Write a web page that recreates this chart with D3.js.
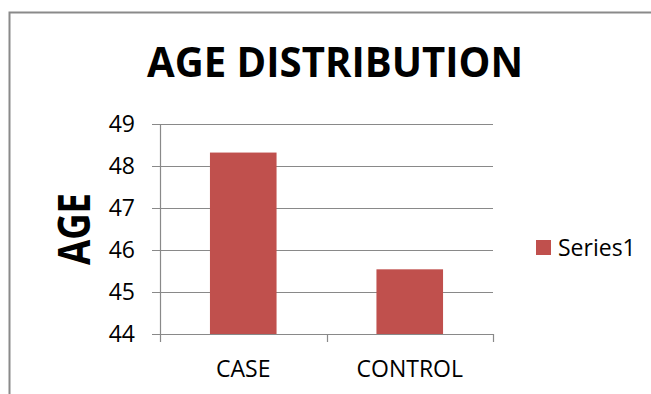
<!DOCTYPE html>
<html>
<head>
<meta charset="utf-8">
<script src="https://cdn.jsdelivr.net/npm/d3@7"></script>
<style>
  html, body { margin: 0; padding: 0; background: #fff; }
  svg { display: block; font-family: "Open Sans", sans-serif; }
</style>
</head>
<body>
<svg id="chart" width="651" height="394"></svg>
<script>
const categories = ["CASE", "CONTROL"]
const values     = [48.32, 45.54]
const yTicks     = [44, 45, 46, 47, 48, 49]
const seriesName = "Series1"
const titleText  = "AGE DISTRIBUTION"
const yLabel     = "AGE"

const W = 651, H = 394
const plot = { left: 160, right: 493, top: 124, bottom: 334 }
const BAR  = "#C0504D"
const GRID = "#898989"

const svg = d3.select("#chart")

// outer chart frame (only top/left edges are visible in the crop)
svg.append("path")
  .attr("d", `M9.5,${H} L9.5,12.5 L${W},12.5`)
  .attr("fill", "none").attr("stroke", "#8a8a8a").attr("stroke-width", 2)

const x = d3.scaleBand()
  .domain(categories)
  .range([plot.left, plot.right])
  .paddingInner(0.6).paddingOuter(0.3)

const y = d3.scaleLinear()
  .domain([d3.min(yTicks), d3.max(yTicks)])
  .range([plot.bottom, plot.top])

// gridlines + y tick marks
svg.append("g").selectAll("line").data(yTicks).join("line")
  .attr("x1", plot.left - 8).attr("x2", plot.right)
  .attr("y1", d => Math.round(y(d)) + 0.5).attr("y2", d => Math.round(y(d)) + 0.5)
  .attr("stroke", GRID).attr("stroke-width", 1.2)

// y axis line
svg.append("line")
  .attr("x1", plot.left + 0.5).attr("x2", plot.left + 0.5)
  .attr("y1", plot.top).attr("y2", plot.bottom)
  .attr("stroke", GRID).attr("stroke-width", 1.2)

// x tick marks at category boundaries
const xBounds = [plot.left, ...categories.map((c, i) => x(c) + x.bandwidth() + x.step() * x.paddingInner() / 2).slice(0, -1), plot.right]
svg.append("g").selectAll("line").data(xBounds).join("line")
  .attr("x1", d => Math.round(d) + 0.5).attr("x2", d => Math.round(d) + 0.5)
  .attr("y1", plot.bottom).attr("y2", plot.bottom + 8)
  .attr("stroke", GRID).attr("stroke-width", 1.2)

// bars
svg.append("g").selectAll("rect").data(values).join("rect")
  .attr("x", (d, i) => x(categories[i]))
  .attr("width", x.bandwidth())
  .attr("y", d => y(d))
  .attr("height", d => plot.bottom - y(d))
  .attr("fill", BAR)

// y tick labels
svg.append("g").selectAll("text").data(yTicks).join("text")
  .attr("x", plot.left - 25).attr("y", d => y(d))
  .attr("dy", "0.36em")
  .attr("text-anchor", "end")
  .attr("font-size", 23).attr("fill", "#000")
  .text(d => d)

// x tick labels
svg.append("g").selectAll("text").data(categories).join("text")
  .attr("x", d => x(d) + x.bandwidth() / 2).attr("y", 377)
  .attr("text-anchor", "middle")
  .attr("font-size", 23).attr("fill", "#000")
  .text(d => d)

// title
svg.append("text")
  .attr("x", 147).attr("y", 77)
  .attr("font-size", 40.5).attr("font-weight", "bold")
  .attr("textLength", 376).attr("lengthAdjust", "spacingAndGlyphs")
  .text(titleText)

// y axis title
svg.append("text")
  .attr("transform", `translate(90,${(plot.top + plot.bottom) / 2}) rotate(-90)`)
  .attr("text-anchor", "middle")
  .attr("font-size", 44).attr("font-weight", "bold")
  .attr("textLength", 72).attr("lengthAdjust", "spacingAndGlyphs")
  .text(yLabel)

// legend
const lg = svg.append("g").attr("transform", "translate(536,240)")
lg.append("rect").attr("width", 15).attr("height", 15).attr("fill", BAR)
lg.append("text").attr("x", 22).attr("y", 15.5)
  .attr("font-size", 23).attr("fill", "#000")
  .text(seriesName)
</script>
</body>
</html>
